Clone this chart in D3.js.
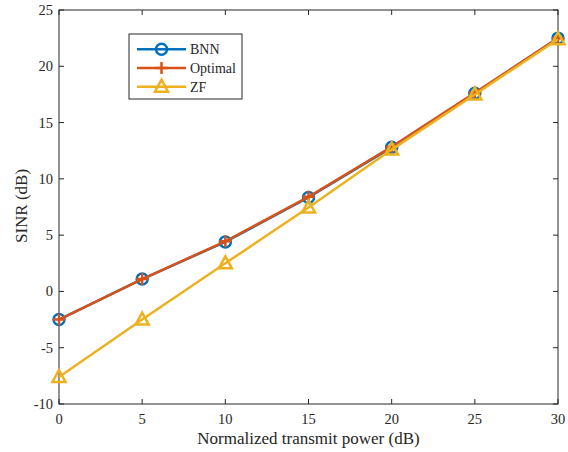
<!DOCTYPE html>
<html><head><meta charset="utf-8">
<script src="https://cdn.jsdelivr.net/npm/d3@7"></script>
<style>body{margin:0;background:#fff}svg{display:block}text{font-family:"Liberation Serif","Times New Roman",serif;fill:#262626}</style>
</head><body><svg id="c" width="568" height="452"></svg>
<script>
const powers = [0, 5, 10, 15, 20, 25, 30];
const bnn = [-2.5, 1.1, 4.4, 8.35, 12.8, 17.6, 22.5];
const optimal = [-2.5, 1.1, 4.45, 8.4, 12.85, 17.65, 22.5];
const zf = [-7.6, -2.5, 2.5, 7.45, 12.6, 17.5, 22.4];
const xTicks = [0, 5, 10, 15, 20, 25, 30];
const yTicks = [-10, -5, 0, 5, 10, 15, 20, 25];
const seriesNames = ["BNN", "Optimal", "ZF"];
const colors = ["#0072BD", "#D95319", "#EDB120"];

const svg = d3.select("#c");
const L = 59, R = 558, T = 10, B = 404;
const x = d3.scaleLinear().domain([0, 30]).range([L, R]);
const y = d3.scaleLinear().domain([-10, 25]).range([B, T]);

svg.append("rect").attr("x", L).attr("y", T).attr("width", R - L).attr("height", B - T)
  .attr("fill", "#fff").attr("stroke", "#262626").attr("stroke-width", 1);

const tl = 5;
const gx = svg.append("g");
xTicks.forEach(t => {
  gx.append("line").attr("x1", x(t)).attr("x2", x(t)).attr("y1", B).attr("y2", B - tl).attr("stroke", "#262626");
  gx.append("line").attr("x1", x(t)).attr("x2", x(t)).attr("y1", T).attr("y2", T + tl).attr("stroke", "#262626");
  gx.append("text").attr("x", x(t)).attr("y", B + 20).attr("text-anchor", "middle").attr("font-size", 14.5).text(t);
});
yTicks.forEach(t => {
  gx.append("line").attr("y1", y(t)).attr("y2", y(t)).attr("x1", L).attr("x2", L + tl).attr("stroke", "#262626");
  gx.append("line").attr("y1", y(t)).attr("y2", y(t)).attr("x1", R).attr("x2", R - tl).attr("stroke", "#262626");
  gx.append("text").attr("x", L - 6).attr("y", y(t) + 5).attr("text-anchor", "end").attr("font-size", 14.5).text(t);
});
svg.append("text").attr("x", (L + R) / 2).attr("y", 444).attr("text-anchor", "middle").attr("font-size", 17).text("Normalized transmit power (dB)");
svg.append("text").attr("transform", `translate(27,206) rotate(-90)`).attr("text-anchor", "middle").attr("font-size", 17).text("SINR (dB)");

const line = d3.line().x(d => x(d[0])).y(d => y(d[1]));
const data = [bnn, optimal, zf];

function marker(g, kind, cx, cy, color) {
  if (kind === 0) {
    g.append("circle").attr("cx", cx).attr("cy", cy).attr("r", 5.5).attr("fill", "none").attr("stroke", color).attr("stroke-width", 2.5);
  } else if (kind === 1) {
    g.append("path").attr("d", `M${cx - 6},${cy}H${cx + 6}M${cx},${cy - 6}V${cy + 6}`).attr("stroke", color).attr("stroke-width", 2.5);
  } else {
    g.append("path").attr("d", `M${cx},${cy - 7}L${cx + 6.5},${cy + 5}L${cx - 6.5},${cy + 5}Z`).attr("fill", "none").attr("stroke", color).attr("stroke-width", 2.5);
  }
}

data.forEach((s, i) => {
  const pts = powers.map((p, j) => [p, s[j]]);
  const g = svg.append("g");
  g.append("path").attr("d", line(pts)).attr("fill", "none").attr("stroke", colors[i]).attr("stroke-width", 2.5);
  pts.forEach(p => marker(g, i, x(p[0]), y(p[1]), colors[i]));
});

const lg = svg.append("g");
lg.append("rect").attr("x", 129).attr("y", 34).attr("width", 113).attr("height", 65).attr("fill", "#fff").attr("stroke", "#262626").attr("stroke-width", 1);
seriesNames.forEach((n, i) => {
  const ly = 49.3 + i * 18.7;
  lg.append("line").attr("x1", 137).attr("x2", 186).attr("y1", ly).attr("y2", ly).attr("stroke", colors[i]).attr("stroke-width", 2.5);
  marker(lg, i, 161.5, ly, colors[i]);
  lg.append("text").attr("x", 190).attr("y", ly + 4.8).attr("font-size", 14).text(n);
});
</script></body></html>
